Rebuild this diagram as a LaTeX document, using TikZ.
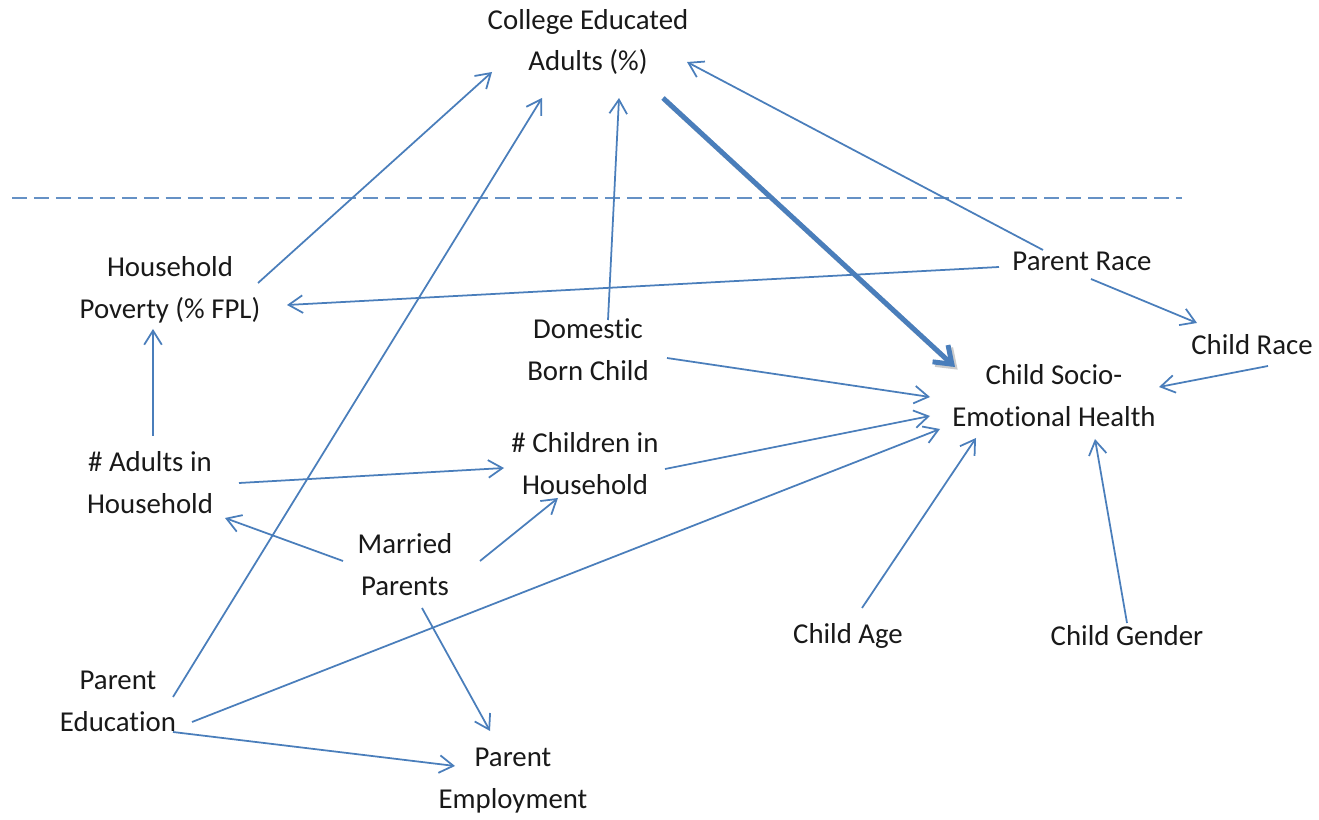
\documentclass[tikz,border=0pt]{standalone}
\usepackage{fontspec}
\setmainfont{Carlito}[Ligatures={NoCommon,NoContextual}]
\usepackage{xcolor}
\usepackage{tikz}
\usetikzlibrary{calc,positioning,arrows.meta}
\definecolor{linkblue}{HTML}{4A7EBB}

\begin{document}
\begin{tikzpicture}[x=0.02cm,y=-0.02cm,
  var/.style={align=center,inner sep=0pt,text=black!90,font=\fontsize{16.4}{23.9}\selectfont},
  link/.style={draw=linkblue,line width=1pt,-{Straight Barb[length=8pt,width=10pt]}},
  biglink/.style={draw=linkblue,line width=2.8pt,-{Straight Barb[length=9pt,width=13pt]}}]

\useasboundingbox (0,0) rectangle (1319,820);

\draw [linkblue!85, line width=0.8pt, dash pattern=on 8.5pt off 4pt] (12,198) -- (1182,198);

\node[var] (col) at (588,42) {College Educated\\Adults (\%)};
\node[var] (hp) at (170,290) {Household\\Poverty (\% FPL)};
\node[var] (db) at (588,350) {Domest\kern0pt ic\\Born Child};
\node[var] (pr) at (1082,261) {Parent Race};
\node[var] (cr) at (1252,345) {Child Race};
\node[var] (csh) at (1054,396) {Child Socio-\\Emot\kern0pt ional Health};
\node[var] (adl) at (150,483) {\# Adults in\\Household};
\node[var] (chl) at (585,464) {\# Children in\\Household};
\node[var] (mp) at (405,565) {Married\\Parents};
\node[var] (pe) at (118,701) {Parent\\Education};
\node[var] (pem) at (513,781) {Parent\\Employment};
\node[var] (age) at (848,636) {Child Age};
\node[var] (gen) at (1127,636) {Child Gender};

% into college educated adults
\draw [link] ($(hp)+(88,-7)$) -- ($(col)+(-96,30)$);
\draw [link] ($(pe)+(55,-4)$) -- ($(col)+(-46,56)$);
\draw [link] ($(db)+(20,-30)$) -- ($(col)+(31,56)$);
\draw [link] ($(pr)+(-39,-11)$) -- ($(col)+(99,20)$);

\draw [biglink, preaction={draw=black, opacity=0.2, line width=2.8pt, transform canvas={shift={(1.5pt,-1.5pt)}}}]
  ($(col)+(75,56)$) -- ($(csh)+(-99,-29)$);

\draw [link] ($(pr)+(-83,6)$) -- ($(hp)+(117,15)$);
\draw [link] ($(pr)+(9,18)$) -- ($(cr)+(-55,-22)$);

% into child socio-emotional health
\draw [link] ($(cr)+(16,21)$) -- ($(csh)+(105,-9)$);
\draw [link] ($(db)+(79,8)$) -- ($(csh)+(-124,1)$);
\draw [link] ($(chl)+(80,5)$) -- ($(csh)+(-124,20)$);
\draw [link] ($(pe)+(74,21)$) -- ($(csh)+(-114,33)$);
\draw [link] ($(age)+(14,-28)$) -- ($(csh)+(-78,42)$);
\draw [link] ($(gen)+(0,-13)$) -- ($(csh)+(41,43)$);

\draw [link] ($(adl)+(3,-47)$) -- ($(hp)+(-17,39)$);
\draw [link] ($(adl)+(89,0)$) -- ($(chl)+(-81,4)$);
\draw [link] ($(mp)+(-62,-4)$) -- ($(adl)+(75,35)$);
\draw [link] ($(mp)+(75,-4)$) -- ($(chl)+(-27,34)$);
\draw [link] ($(mp)+(17,43)$) -- ($(pem)+(-23,-50)$);
\draw [link] ($(pe)+(55,31)$) -- ($(pem)+(-58,-15)$);

\end{tikzpicture}
\end{document}
